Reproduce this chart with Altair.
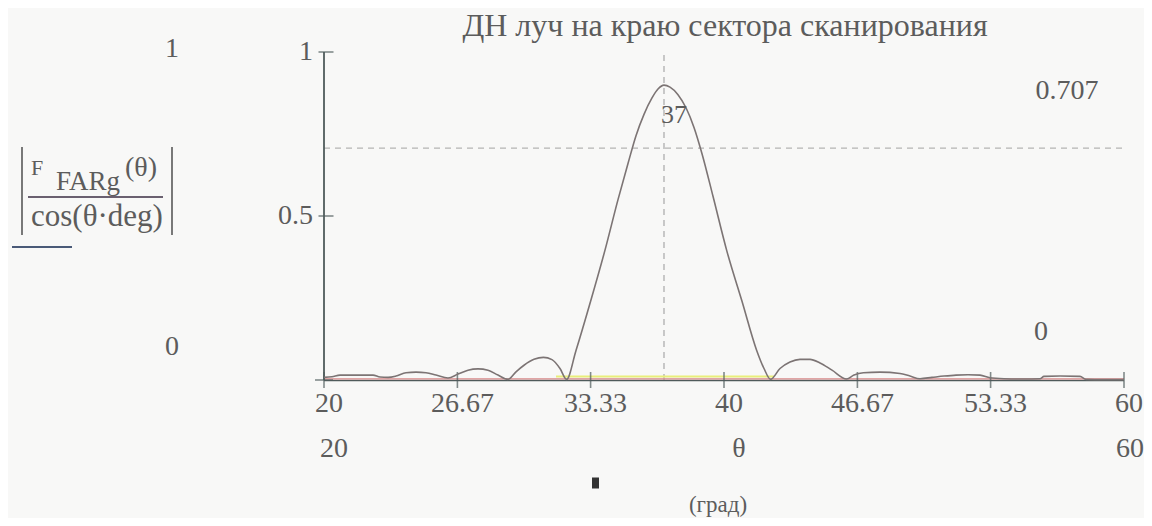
import altair as alt
import pandas as pd

# ---- data ----
theta = [20.0, 20.4, 20.8, 21.5, 22.45, 22.8, 23.2, 23.6, 24.1, 24.6, 25.1, 25.6,
         26.2, 26.7, 27.2, 27.7, 28.2, 28.7, 29.2, 29.6, 30.0, 30.5, 30.97, 31.4,
         31.8, 32.13, 32.6, 33.33, 34.05, 34.7, 35.2, 35.6, 36.0, 36.4, 36.7,
         37.0, 37.3, 37.7, 38.1, 38.5, 38.9, 39.45, 40.13, 40.9, 41.63, 42.0, 42.33,
         42.8, 43.3, 43.8, 44.3, 44.8, 45.4, 46.13, 46.5, 46.97, 47.8, 48.8, 49.3,
         49.8, 50.4, 51.0, 51.6, 52.2, 52.8, 53.3, 54.0, 55.0, 55.8, 56.0, 56.8,
         57.8, 58.1, 59.0, 60.0]
F_val = [0.008, 0.010, 0.015, 0.015, 0.015, 0.009, 0.008, 0.012, 0.022, 0.024, 0.022, 0.015,
         0.006, 0.018, 0.030, 0.034, 0.030, 0.015, 0.002, 0.025, 0.045, 0.063, 0.069, 0.062,
         0.035, 0.002, 0.090, 0.240, 0.396, 0.550, 0.660, 0.745, 0.810, 0.860, 0.887,
         0.899, 0.893, 0.870, 0.830, 0.770, 0.690, 0.560, 0.396, 0.240, 0.091, 0.035, 0.002,
         0.035, 0.055, 0.063, 0.063, 0.052, 0.030, 0.003, 0.015, 0.022, 0.024, 0.020, 0.012,
         0.004, 0.008, 0.012, 0.015, 0.016, 0.015, 0.007, 0.004, 0.003, 0.004, 0.011, 0.012,
         0.011, 0.002, 0.001, 0.001]

x_ticks = [20, 26.67, 33.33, 40, 46.67, 53.33, 60]
x_tick_labels = ["20", "26.67", "33.33", "40", "46.67", "53.33", "60"]
y_ticks = [0.5, 1.0]
y_tick_labels = ["0.5", "1"]
marker_x = 37
marker_y = 0.707
title_text = "ДН луч на краю сектора сканирования"

FONT = "Liberation Serif"
TXT = "#5c5c5c"
AX = "#4f5b5b"

curve_df = pd.DataFrame({"theta": theta, "F": F_val})
xt_df = pd.DataFrame({"x": x_ticks, "label": x_tick_labels, "y": [0] * len(x_ticks)})
yt_df = pd.DataFrame({"y": y_ticks, "label": y_tick_labels, "x": [20] * len(y_ticks)})
one = pd.DataFrame({"a": [0]})

xs = alt.Scale(domain=[20, 60], nice=False, zero=False)
ys = alt.Scale(domain=[0, 1], nice=False)

def X(f):
    return alt.X(f, scale=xs, axis=None)

def Y(f):
    return alt.Y(f, scale=ys, axis=None)

# dashed marker lines
vdash = alt.Chart(pd.DataFrame({"x": [marker_x], "y0": [0], "y1": [1]})).mark_rule(
    color="#a8a8a8", strokeDash=[6, 5], strokeWidth=1.2
).encode(x=X("x:Q"), y=Y("y0:Q"), y2="y1:Q")
hdash = alt.Chart(pd.DataFrame({"y": [marker_y], "x0": [20], "x1": [60]})).mark_rule(
    color="#b4b4b4", strokeDash=[6, 5], strokeWidth=1.2
).encode(y=Y("y:Q"), x=X("x0:Q"), x2="x1:Q")

# coloured zero traces
yellow = alt.Chart(pd.DataFrame({"x0": [31.6], "x1": [42.5], "y": [0]})).mark_rule(
    color="#e9ee7a", strokeWidth=2, yOffset=-3.5
).encode(x=X("x0:Q"), x2="x1:Q", y=Y("y:Q"))
pink = alt.Chart(pd.DataFrame({"x0": [20], "x1": [60], "y": [0]})).mark_rule(
    color="#d98a8a", strokeWidth=1.2, yOffset=-1.2
).encode(x=X("x0:Q"), x2="x1:Q", y=Y("y:Q"))

# axes
xaxis = alt.Chart(pd.DataFrame({"x0": [20], "x1": [60], "y": [0]})).mark_rule(
    color=AX, strokeWidth=1.6, yOffset=0.5
).encode(x=X("x0:Q"), x2="x1:Q", y=Y("y:Q"))
yaxis = alt.Chart(pd.DataFrame({"x": [20], "y0": [0], "y1": [1]})).mark_rule(
    color=AX, strokeWidth=1.8
).encode(x=X("x:Q"), y=Y("y0:Q"), y2="y1:Q")
xtick = alt.Chart(xt_df).mark_tick(
    color=AX, orient="vertical", size=16, thickness=1.6
).encode(x=X("x:Q"), y=Y("y:Q"))
ytick = alt.Chart(yt_df).mark_tick(
    color=AX, orient="horizontal", size=15, thickness=1.6, xOffset=2
).encode(x=X("x:Q"), y=Y("y:Q"))
origin_tick = alt.Chart(pd.DataFrame({"x": [20], "y": [0]})).mark_tick(
    color=AX, orient="horizontal", size=18, thickness=1.6
).encode(x=X("x:Q"), y=Y("y:Q"))

curve = alt.Chart(curve_df).mark_line(
    color="#7c7474", strokeWidth=1.6, interpolate="monotone"
).encode(x=X("theta:Q"), y=Y("F:Q"))

# tick labels
xlab = alt.Chart(xt_df).mark_text(
    font=FONT, fontSize=28, color=TXT, baseline="alphabetic", align="center", dx=5, dy=32
).encode(x=X("x:Q"), y=Y("y:Q"), text="label:N")
ylab = alt.Chart(yt_df).mark_text(
    font=FONT, fontSize=28, color=TXT, baseline="middle", align="right", dx=-11
).encode(x=X("x:Q"), y=Y("y:Q"), text="label:N")

marker_lab = alt.Chart(pd.DataFrame({"x": [marker_x], "y": [1], "t": ["37"]})).mark_text(
    font=FONT, fontSize=26, color=TXT, baseline="alphabetic", align="left", dx=-3, dy=71
).encode(x=X("x:Q"), y=Y("y:Q"), text="t:N")

def txt(s, x, y, size=28, align="left", color=TXT):
    return alt.Chart(one).mark_text(
        text=s, font=FONT, fontSize=size, color=color, baseline="alphabetic", align=align
    ).encode(x=alt.value(x), y=alt.value(y))

def rule(x1, x2, y1, y2, color=AX, w=1.6):
    return alt.Chart(one).mark_rule(color=color, strokeWidth=w).encode(
        x=alt.value(x1), x2=alt.value(x2), y=alt.value(y1), y2=alt.value(y2)
    )

annots = [
    txt(title_text, 401, -16, size=32, align="center"),
    txt("1", -152, 5, align="center"),
    txt("0", -152, 303, align="center"),
    txt("0.707", 743, 47, align="center"),
    txt("0", 717, 288, align="center"),
    txt("20", 10, 405, align="center"),
    txt("θ", 415, 405, align="center"),
    txt("60", 806, 405, align="center"),
    txt("(град)", 394, 460, size=23, align="center"),
    # y-axis expression
    txt("F", -293, 123, size=22),
    txt("FARg", -268, 138, size=27),
    txt("(θ)", -199, 124, size=28),
    txt("cos(θ·deg)", -293, 174, size=31),
    rule(-296, -161, 145, 145, color="#6a6070", w=1.8),
    rule(-302, -302, 95, 183, color="#6a6a6a", w=1.8),
    rule(-152, -152, 95, 183, color="#6a6a6a", w=1.8),
    rule(-312, -252, 195, 195, color="#4a5a78", w=1.8),
    rule(268, 275, 431, 431, color="#333333", w=11),
]

chart = alt.layer(
    hdash, vdash, yellow, xaxis, pink, yaxis, xtick, ytick, origin_tick, curve,
    xlab, ylab, marker_lab, *annots
).properties(
    width=800, height=328,
    padding={"left": 316, "top": 44, "right": 20, "bottom": 138},
    autosize=alt.AutoSizeParams(type="none"),
    background="#f8f8f7",
).configure_view(strokeWidth=0)

chart.save("out.html", embed_options={"renderer": "svg", "actions": False})
